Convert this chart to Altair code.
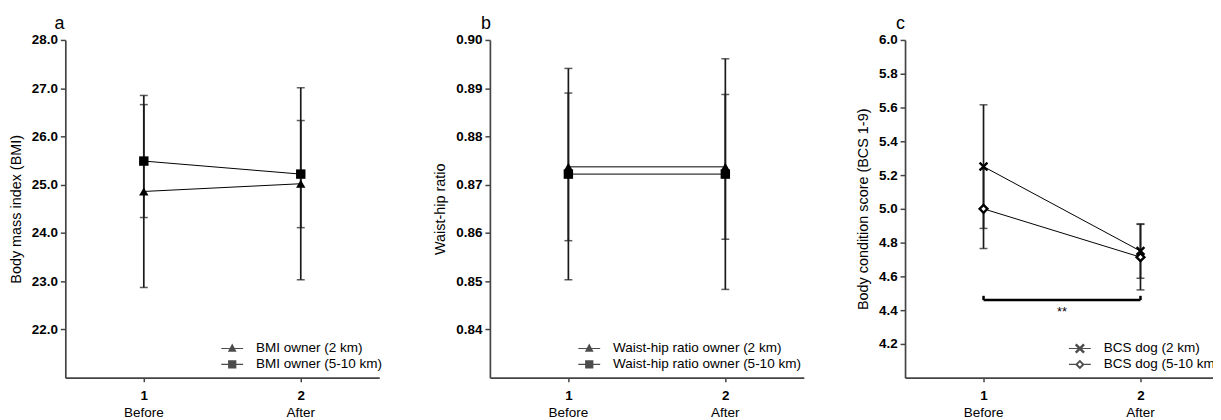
import altair as alt
import pandas as pd

# ---------------- data ----------------
periods = [1, 2]
period_names = ["Before", "After"]

bmi_series = ["BMI owner (2 km)", "BMI owner (5-10 km)"]
bmi_2km_mean = [24.86, 25.02]
bmi_2km_sd = [1.99, 1.99]
bmi_5km_mean = [25.49, 25.22]
bmi_5km_sd = [1.17, 1.11]

whr_series = ["Waist-hip ratio owner (2 km)", "Waist-hip ratio owner (5-10 km)"]
whr_2km_mean = [0.8737, 0.8737]
whr_2km_sd = [0.0153, 0.0150]
whr_5km_mean = [0.8722, 0.8722]
whr_5km_sd = [0.0219, 0.0239]

bcs_series = ["BCS dog (2 km)", "BCS dog (5-10 km)"]
bcs_2km_mean = [5.25, 4.75]
bcs_2km_sd = [0.366, 0.161]
bcs_5km_mean = [5.00, 4.714]
bcs_5km_sd = [0.235, 0.194]

bcs_sig_x = [1, 2]
bcs_sig_y = 4.46
bcs_sig_label = "**"

FONT = "Liberation Sans"
W, H = 316, 340

# legend glyphs: line through marker (units: 1 = half symbol side)
LINE = "M-1.375,-0.07H1.375V0.07H-1.375Z"
LEG_TRI = LINE + "M0,-0.62L0.55,0.42H-0.55Z"
LEG_SQ = LINE + "M-0.52,-0.52H0.52V0.52H-0.52Z"
LEG_X = (LINE + "M-0.41,-0.63L0.63,0.41L0.41,0.63L-0.63,-0.41Z"
         "M-0.63,0.41L0.41,-0.63L0.63,-0.41L-0.41,0.63Z")
LEG_DIA = ("M-1.375,-0.07H-0.5V0.07H-1.375Z M0.5,-0.07H1.375V0.07H0.5Z"
           "M0,-0.6L0.6,0L0,0.6L-0.6,0Z M0,-0.26L-0.26,0L0,0.26L0.26,0Z")
X_PATH = "M-1,-1L1,1M-1,1L1,-1"


def frame(series, means, sds):
    rows = []
    for name, m, s in zip(series, means, sds):
        for p, mv, sv in zip(periods, m, s):
            rows.append({"period": p, "series": name, "mean": mv,
                         "lo": mv - sv, "hi": mv + sv})
    return pd.DataFrame(rows)


def xaxis(field):
    return alt.X(field, scale=alt.Scale(domain=[0.5, 2.5], nice=False, zero=False),
                 axis=alt.Axis(values=periods, format="d", title=None, grid=False))


def panel(df, series, point_shapes, legend_paths, point_style, y_domain,
          y_values, y_format, y_title, letter, letter_dx, legend_x, extra=None):
    base = alt.Chart(df)
    xenc = xaxis("period:Q")

    def yenc(field):
        return alt.Y(f"{field}:Q",
                     scale=alt.Scale(domain=y_domain, nice=False, zero=False),
                     axis=alt.Axis(values=y_values, format=y_format, title=y_title,
                                   grid=False))

    err = base.mark_rule(color="#1a1a1a", strokeWidth=1.7).encode(
        x=xenc, y=yenc("lo"), y2="hi:Q")
    cap_lo = base.mark_tick(orient="horizontal", size=8, thickness=1.5,
                            color="#1a1a1a").encode(x=xenc, y=yenc("lo"))
    cap_hi = base.mark_tick(orient="horizontal", size=8, thickness=1.5,
                            color="#1a1a1a").encode(x=xenc, y=yenc("hi"))
    line = base.mark_line(color="black", strokeWidth=1).encode(
        x=xenc, y=yenc("mean"), detail="series:N")
    pts = base.mark_point(**point_style).encode(
        x=xenc, y=yenc("mean"),
        shape=alt.Shape("series:N", scale=alt.Scale(domain=series, range=point_shapes),
                        legend=None))
    leg = base.mark_point(filled=True, color="black").encode(
        x=xenc, y=yenc("mean"),
        shape=alt.Shape("series:N", scale=alt.Scale(domain=series, range=legend_paths),
                        legend=alt.Legend(title=None, orient="none", legendX=legend_x,
                                          legendY=302.6, symbolSize=256,
                                          symbolStrokeWidth=0, labelOffset=16,
                                          rowPadding=1, padding=0, labelFontSize=13.6,
                                          labelLimit=400,
                                          labelFont=FONT, labelColor="black"))
    ).transform_filter("false")
    sub = alt.Chart(pd.DataFrame({"period": periods, "name": period_names})).mark_text(
        baseline="alphabetic", fontSize=13.6, font=FONT, color="black").encode(
        x=xenc, y=alt.value(H + 40), text="name:N")

    layers = [err, cap_lo, cap_hi, line]
    if extra is not None:
        layers += extra
    layers += [pts, leg, sub]
    return alt.layer(*layers).resolve_scale(shape="independent").properties(
        width=W, height=H,
        title=alt.TitleParams(letter, anchor="start", frame="group", fontSize=18,
                              fontWeight="normal", font=FONT, dx=letter_dx,
                              baseline="alphabetic", offset=-14, color="black"))


df_a = frame(bmi_series, [bmi_2km_mean, bmi_5km_mean], [bmi_2km_sd, bmi_5km_sd])
df_b = frame(whr_series, [whr_2km_mean, whr_5km_mean], [whr_2km_sd, whr_5km_sd])
df_c = frame(bcs_series, [bcs_2km_mean, bcs_5km_mean], [bcs_2km_sd, bcs_5km_sd])

filled_style = dict(filled=True, color="black", size=90, opacity=1)
open_style = dict(filled=False, color="black", fill="white", size=62, strokeWidth=2.4,
                  opacity=1)

pa = panel(df_a, bmi_series, ["triangle-up", "square"], [LEG_TRI, LEG_SQ],
           filled_style, [21, 28], [22, 23, 24, 25, 26, 27, 28], ".1f",
           "Body mass index (BMI)", "a", -11, 160)
pb = panel(df_b, whr_series, ["triangle-up", "square"], [LEG_TRI, LEG_SQ],
           filled_style, [0.83, 0.90], [0.84, 0.85, 0.86, 0.87, 0.88, 0.89, 0.90],
           ".2f", "Waist-hip ratio", "b", -9, 92)

bcs_ticks = [4.2, 4.4, 4.6, 4.8, 5.0, 5.2, 5.4, 5.6, 5.8, 6.0]
sig_df = pd.DataFrame({"x": [bcs_sig_x[0]], "x2": [bcs_sig_x[1]], "y": [bcs_sig_y],
                       "mid": [sum(bcs_sig_x) / 2], "label": [bcs_sig_label]})
sig_ends = pd.DataFrame({"x": bcs_sig_x, "y": [bcs_sig_y] * 2,
                         "y2": [bcs_sig_y + 0.025] * 2})
ysig = alt.Y("y:Q", scale=alt.Scale(domain=[4.0, 6.0], nice=False, zero=False),
             axis=alt.Axis(values=bcs_ticks, format=".1f",
                           title="Body condition score (BCS 1-9)", grid=False))
sig_bar = alt.Chart(sig_df).mark_rule(color="black", strokeWidth=2.5).encode(
    x=xaxis("x:Q"), x2="x2:Q", y=ysig)
sig_tick = alt.Chart(sig_ends).mark_rule(color="black", strokeWidth=2.5).encode(
    x=xaxis("x:Q"), y=ysig, y2="y2:Q")
sig_txt = alt.Chart(sig_df).mark_text(fontSize=13, font=FONT, baseline="top", dy=6,
                                      color="black").encode(
    x=xaxis("mid:Q"), y=ysig, text="label:N")

pc = panel(df_c, bcs_series, [X_PATH, "diamond"], [LEG_X, LEG_DIA], open_style,
           [4.0, 6.0], bcs_ticks, ".1f",
           "Body condition score (BCS 1-9)", "c", -9, 168,
           extra=[sig_bar, sig_tick, sig_txt])

chart = alt.hconcat(alt.hconcat(pa, pb, spacing=111.4, bounds="flush"), pc,
                    spacing=51.3).properties(
    autosize=alt.AutoSizeParams(type="none"),
    padding={"left": 57.7, "top": 29.7, "right": 1155.3, "bottom": 374.3},
).configure_view(stroke=None).configure_axis(
    domainColor="#444", domainWidth=1.7, tickColor="#444", tickWidth=1.5, tickSize=5,
    labelFont=FONT, labelFontSize=13.5, labelFontWeight="bold", labelColor="black",
    labelPadding=3, titleFont=FONT, titleFontSize=14.5, titleFontWeight="normal",
    titleColor="black", titlePadding=8
).configure_axisX(labelPadding=7, tickSize=4)

chart.save("out.html", embed_options={"renderer": "svg", "actions": False})
